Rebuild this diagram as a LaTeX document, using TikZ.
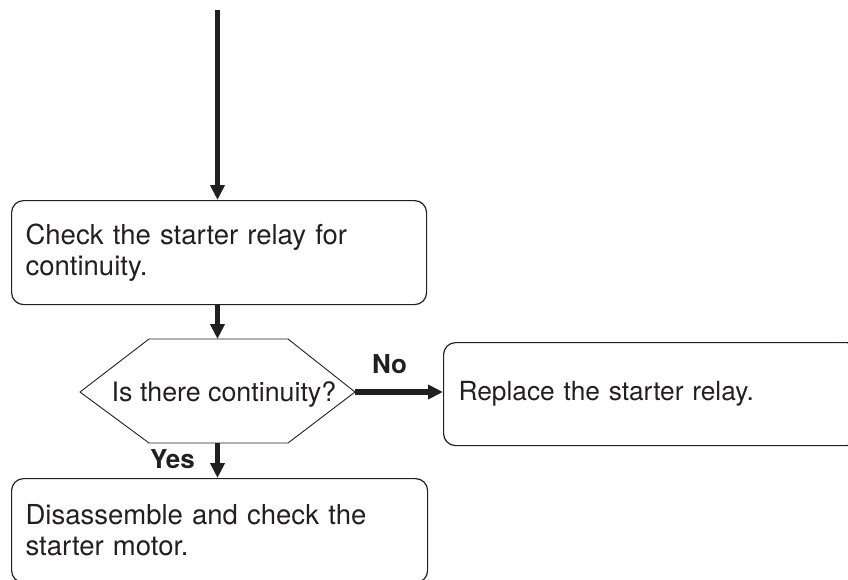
\documentclass[tikz,border=0pt]{standalone}
\usepackage{fontspec}
\setmainfont{TeX Gyre Heros}
\usetikzlibrary{arrows.meta}
\definecolor{ink}{HTML}{231F20}
\begin{document}
\begin{tikzpicture}[x=1pt,y=-1pt,
  box/.style={draw=ink,line width=1.2pt,rounded corners=12pt,rectangle,anchor=north west,
    inner xsep=14pt,inner ysep=0pt,align=left,text=ink,
    font=\fontsize{27.5}{31}\selectfont},
  flow/.style={draw=ink,line width=5.5pt,-{Triangle[width=14pt,length=15pt]}},
  lbl/.style={anchor=base west,inner sep=0pt,text=ink,font=\fontsize{26}{30}\selectfont\bfseries}]
\useasboundingbox (0,0) rectangle (848,579);
\clip (0,0) rectangle (848,579);
% boxes
\node[box,minimum width=415pt,minimum height=104pt,text width=387pt] (b1) at (11,200)
  {Check the starter relay for\\continuity.};
\node[box,minimum width=415pt,minimum height=103pt,text width=385pt,inner xsep=15pt,
  font=\fontsize{26.3}{31}\selectfont] (b2) at (443,342)
  {Replace the starter relay.};
\node[box,minimum width=416pt,minimum height=104pt,text width=388pt] (b3) at (11,478)
  {Disassemble and check the\\starter motor.};
% hexagon
\draw[ink,line width=0.9pt] (80,392) -- (149,339) -- (288,339) -- (355,392) -- (288,443) -- (149,443) -- cycle;
\coordinate (hexN) at (217.5,339);
\coordinate (hexS) at (217.5,443);
\coordinate (hexE) at (355,392);
\node[anchor=base,inner sep=0pt,text=ink,font=\fontsize{26.8}{31}\selectfont] (q) at (224,401) {Is there continuity?};
% connectors
\coordinate (start) at (217.5,10);
\draw[flow] (start) -- (start |- b1.north);
\draw[flow] (hexN |- b1.south) -- (hexN);
\draw[flow] (hexE) -- (hexE -| b2.west);
\draw[flow] (hexS) -- (hexS |- b3.north);
% labels
\node[lbl] (no) at (372,373) {No};
\node[lbl] (yes) at (150,468) {Yes};
\end{tikzpicture}
\end{document}
